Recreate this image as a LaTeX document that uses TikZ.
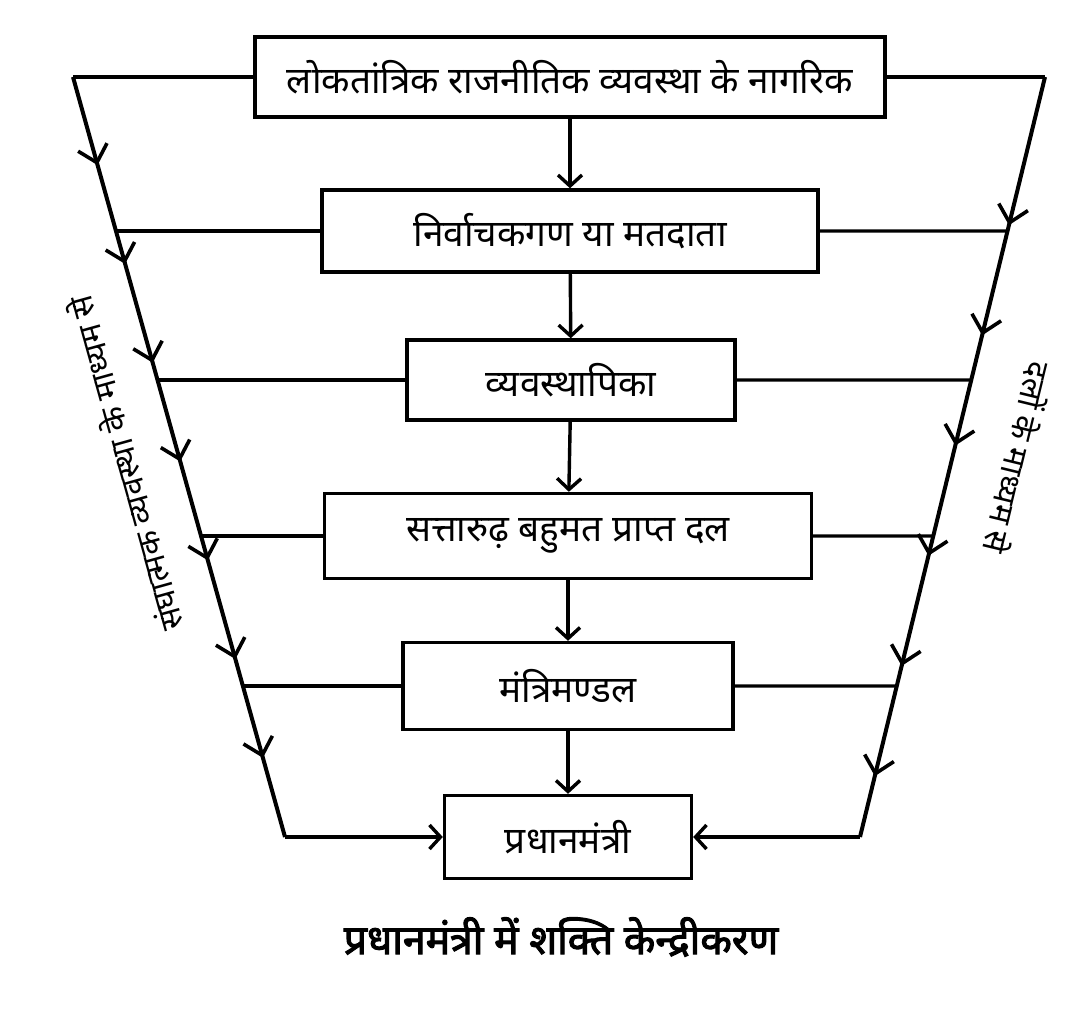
\documentclass[tikz,border=0pt]{standalone}
\usepackage{fontspec}
\newfontfamily\deva[Script=Devanagari]{Noto Sans}
\newfontfamily\devabold[Script=Devanagari,FakeBold=2.5]{Noto Sans}
\usetikzlibrary{arrows.meta,decorations.markings}
\tikzset{
  box/.style={draw, line width=3.4pt, inner sep=0pt, font=\deva\fontsize{37}{40}\selectfont},
  link/.style={line width=3.4pt},
  slant/.style 2 args={line width=4pt,
    decoration={markings, mark=between positions #1 and 0.95 step #2 with
      {\arrow[line width=3.6pt]{Straight Barb[length=16pt,width=30pt]}}},
    postaction={decorate}},
  side/.style={font=\deva\fontsize{32}{36}\selectfont},
  >={Straight Barb[length=11pt,width=24pt,line width=3.4pt]}
}
\begin{document}
\begin{tikzpicture}[x=1pt,y=-1pt]
  \useasboundingbox (0,0) rectangle (1087,1035);
  % boxes
  \node[box, minimum width=630, minimum height=80] (citizens) at (570,77) {लोकतांत्रिक राजनीतिक व्यवस्था के नागरिक};
  \node[box, minimum width=496, minimum height=82] (voters) at (570,231) {निर्वाचकगण या मतदाता};
  \node[box, minimum width=328, minimum height=80] (legis) at (571,380) {व्यवस्थापिका};
  \node[box, minimum width=487, minimum height=85] (party) at (568,536) {सत्तारुढ़ बहुमत प्राप्त दल};
  \node[box, minimum width=330, minimum height=87] (cabinet) at (568,686) {मंत्रिमण्डल};
  \node[box, minimum width=247, minimum height=83] (pm) at (568,837) {प्रधानमंत्री};
  \node[font=\devabold\fontsize{41}{44}\selectfont] (caption) at (561,937) {प्रधानमंत्री में शक्ति केन्द्रीकरण};
  % down the middle
  \draw[link,->] (citizens) -- (voters);
  \draw[link,->] (voters) -- (legis);
  \draw[link,->] (legis) -- (party);
  \draw[link,->] (party) -- (cabinet);
  \draw[link,->] (cabinet) -- (pm);
  % the two slanted sides
  \coordinate (TL) at (73,77);
  \coordinate (BL) at (285,837);
  \coordinate (TR) at (1045,77);
  \coordinate (BR) at (860,837);
  \draw[link] (citizens.west) -- (TL);
  \draw[link] (citizens.east) -- (TR);
  \draw[slant={0.116}{0.13}] (TL) -- (BL);
  \draw[slant={0.195}{0.145}] (TR) -- (BR);
  \draw[link,->] (BL) -- (pm.west);
  \draw[link,->] (BR) -- (pm.east);
  \foreach \n in {voters,legis,party,cabinet} {
    \path (\n.west) ++(-500,0) coordinate (hl);
    \path (\n.east) ++(500,0) coordinate (hr);
    \coordinate (L-\n) at (intersection of TL--BL and \n.west--hl);
    \coordinate (R-\n) at (intersection of TR--BR and \n.east--hr);
    \draw[link] (\n.west) -- (L-\n);
    \draw[link] (\n.east) -- (R-\n);
  }
  % side labels
  \node[side, rotate=105.6] (federal) at (124,464) {संघात्मक व्यवस्था के माध्यम से};
  \node[side, rotate=-103.7] (parties) at (1018,458) {दलों के माध्यम से};
\end{tikzpicture}
\end{document}
